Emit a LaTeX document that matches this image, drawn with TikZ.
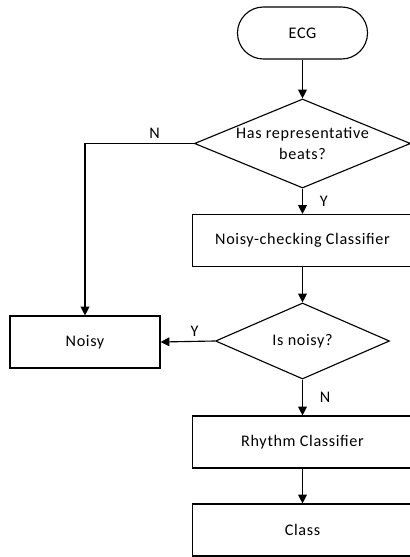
\documentclass[tikz,border=0pt]{standalone}
\usepackage{fontspec}
\setmainfont{Carlito}[LetterSpace=4]
\usepackage{tikz}
\usetikzlibrary{arrows.meta,shapes.geometric}

\begin{document}
\begin{tikzpicture}[x=0.025cm,y=-0.025cm,>={Triangle[length=2.2mm,width=2.2mm]},
every node/.style={font=\fontsize{11.5}{15}\selectfont},
blk/.style={draw,line width=0.8pt,rectangle,minimum width=5.5cm,minimum height=1.3cm,inner sep=0pt},
term/.style={draw,line width=0.8pt,rounded corners=0.65cm,minimum width=3.25cm,minimum height=1.3cm,inner sep=0pt},
dec/.style={draw,line width=0.8pt,diamond,inner sep=0pt,align=center},
lnk/.style={line width=0.8pt,->}]
\useasboundingbox (0,0) rectangle (409,557);
% main column
\node[term] (ecg) at (302.5,33) {ECG};
\node[dec,minimum width=5.4cm,minimum height=2.225cm,aspect=2.43] (rep) at (302.5,143.5) {Has representative\\beats?};
\node[blk] (chk) at (302.5,240.5) {Noisy-checking Classifier};
\node[dec,minimum width=4.35cm,minimum height=1.9cm,aspect=2.29] (isn) at (302.5,341) {Is noisy?};
\node[blk] (rhy) at (302.5,442) {Rhythm Classifier};
\node[blk] (cls) at (302.5,530) {Class};
% side box
\node[blk,minimum width=3.75cm] (noisy) at (85,342) {Noisy};
% links
\draw[lnk](ecg)--(rep);
\draw[lnk](rep)--node[right=0.3cm]{Y}(chk);
\draw[lnk](chk)--(isn);
\draw[lnk](isn)--node[right=0.3cm]{N}(rhy);
\draw[lnk](rhy)--(cls);
\draw[lnk](rep.west)-|node[pos=0.18,above]{N}(noisy.north);
\draw[lnk](isn.west)--node[pos=0.375,above]{Y}(noisy.east);
\end{tikzpicture}
\end{document}
